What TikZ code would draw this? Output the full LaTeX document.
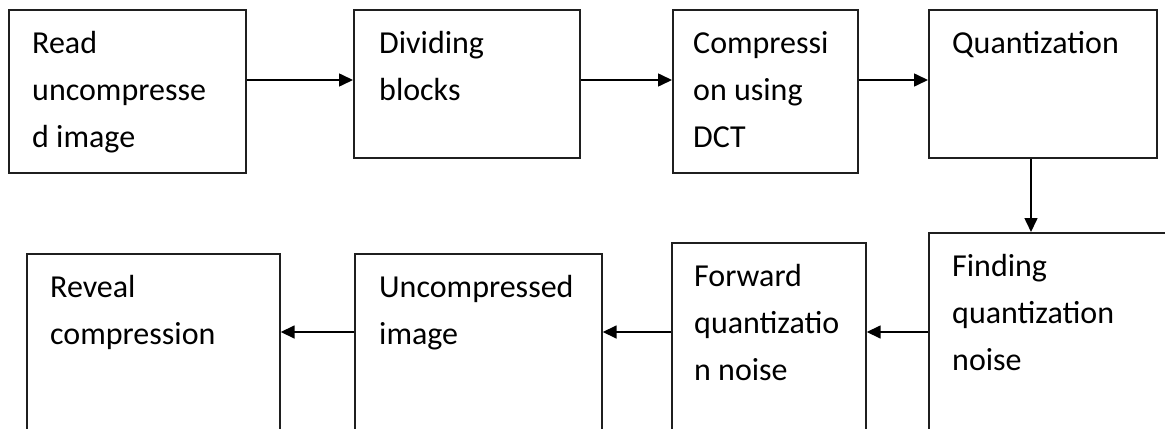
\documentclass[tikz,border=0pt]{standalone}
\usepackage{fontspec}
\setmainfont{Carlito}
\usetikzlibrary{arrows.meta}
\newcommand{\stepfont}{\fontsize{32bp}{47bp}\selectfont}
\tikzset{
  stepbox/.style={draw=black!88,line width=1.7bp,rectangle,anchor=north west,inner sep=0pt},
  steptext/.style={anchor=north west,inner sep=0pt,align=left,font=\stepfont,xshift=24bp,yshift=-11bp},
}
\begin{document}
\begin{tikzpicture}[>={Triangle[length=14bp,width=13bp]},line join=miter]
\path[use as bounding box,clip] (0bp,0bp) rectangle (1165bp,-429bp);
%%
\node (read) at (8bp,-9bp) [stepbox,minimum width=237bp,minimum height=163bp] {};
  \node (divide) at (353bp,-9bp) [stepbox,minimum width=226bp,minimum height=148bp] {};
  \node (dct) at (672bp,-9bp) [stepbox,minimum width=185bp,minimum height=163bp] {};
  \node (quant) at (928bp,-9bp) [stepbox,minimum width=228bp,minimum height=148bp] {};
  \node (find) at (928bp,-232bp) [stepbox,minimum width=262bp,minimum height=228bp] {};
  \node (forward) at (671bp,-242bp) [stepbox,minimum width=194bp,minimum height=218bp] {};
  \node (uncomp) at (354bp,-253bp) [stepbox,minimum width=247bp,minimum height=207bp] {};
  \node (reveal) at (26bp,-253bp) [stepbox,minimum width=253bp,minimum height=207bp] {};
  \node (read_t) at (read.north west) [steptext] {\strut Read\\uncompresse\\d image};
  \node (divide_t) at (divide.north west) [steptext,xshift=2bp] {\strut Dividing\\blocks};
  \node (dct_t) at (dct.north west) [steptext,xshift=-3bp] {\strut Compressi\\on using\\DCT};
  \node (quant_t) at (quant.north west) [steptext] {\strut Quantization};
  \node (find_t) at (find.north west) [steptext] {\strut Finding\\quantization\\noise};
  \node (forward_t) at (forward.north west) [steptext,xshift=-1bp] {\strut Forward\\quantizatio\\n noise};
  \node (uncomp_t) at (uncomp.north west) [steptext,xshift=1bp] {\strut Uncompressed\\image};
  \node (reveal_t) at (reveal.north west) [steptext] {\strut Reveal\\compression};
  \coordinate (toprow) at (0bp,-80bp);
  \coordinate (botrow) at (0bp,-332bp);
  \coordinate (downcol) at (1031bp,0bp);
  \draw [->,line width=1.6bp] (read.east |- toprow) -- (divide.west |- toprow);
  \draw [->,line width=1.6bp] (divide.east |- toprow) -- (dct.west |- toprow);
  \draw [->,line width=1.6bp] (dct.east |- toprow) -- (quant.west |- toprow);
  \draw [->,line width=1.6bp] (quant.south -| downcol) -- (find.north -| downcol);
  \draw [->,line width=1.6bp] (find.west |- botrow) -- (forward.east |- botrow);
  \draw [->,line width=1.6bp] (forward.west |- botrow) -- (uncomp.east |- botrow);
  \draw [->,line width=1.6bp] (uncomp.west |- botrow) -- (reveal.east |- botrow);
%
\end{tikzpicture}
\end{document}
